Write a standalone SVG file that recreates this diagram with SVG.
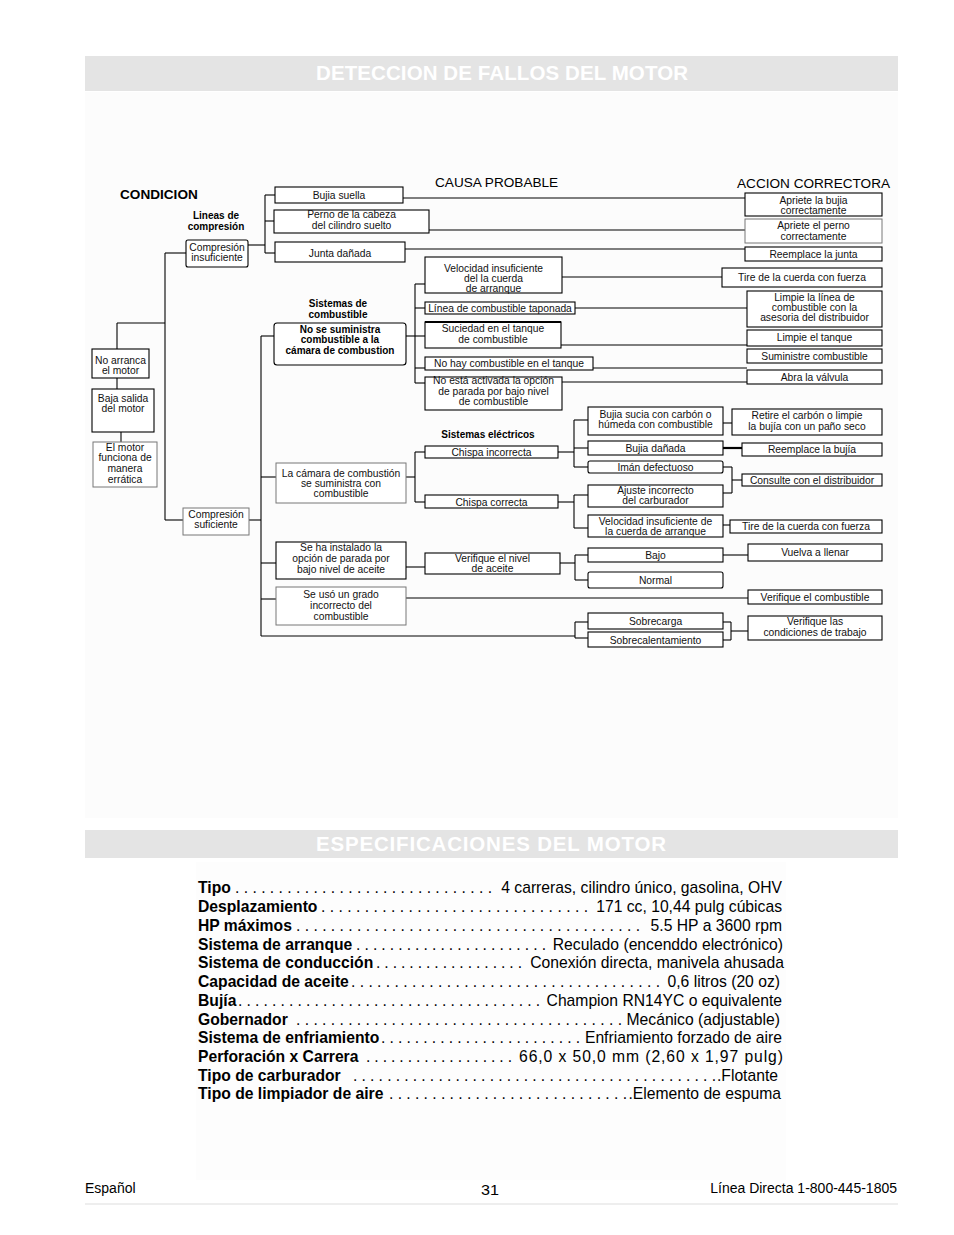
<svg xmlns="http://www.w3.org/2000/svg" width="954" height="1235" viewBox="0 0 954 1235">
<style>
.bg{fill:#fcfcfc}
.hdr{fill:#e4e4e4}
.ht{font-family:"Liberation Sans",Arial,sans-serif;font-weight:bold;font-size:20.5px;fill:#fff}
.box{fill:#fff;stroke:#000;stroke-width:1.1}
.gbox{fill:#fff;stroke:#777;stroke-width:1}
.t{font-family:"Liberation Sans",Arial,sans-serif;font-size:10.3px;text-anchor:middle;fill:#111}
.tb{font-family:"Liberation Sans",Arial,sans-serif;font-size:10px;font-weight:bold;text-anchor:middle;fill:#000}
.ttl{font-family:"Liberation Sans",Arial,sans-serif;font-size:13.6px;fill:#000}
.c line,.c polyline{stroke:#000;stroke-width:1.1;fill:none}
.sn{font-family:"Liberation Sans",Arial,sans-serif;font-size:15.7px;font-weight:bold;fill:#000}
.sv{font-family:"Liberation Sans",Arial,sans-serif;font-size:15.7px;fill:#000;text-anchor:end}
.sd{font-family:"Liberation Sans",Arial,sans-serif;font-size:15.7px;fill:#000}
.ft{font-family:"Liberation Sans",Arial,sans-serif;font-size:14px;fill:#000}
</style>
<rect width="954" height="1235" fill="#fff"/>
<rect class="bg" x="85" y="92" width="813" height="726"/>
<rect x="196" y="862" width="590" height="318" fill="#fdfdfd"/>

<g id="header1">
<rect class="hdr" x="85" y="56" width="813" height="35"/>
<text class="ht" x="316" y="80" textLength="372">DETECCION DE FALLOS DEL MOTOR</text>
</g>

<g id="titles">
<text class="ttl" x="120" y="199" font-weight="bold" font-size="15px">CONDICION</text>
<text class="ttl" x="435" y="187">CAUSA PROBABLE</text>
<text class="ttl" x="737" y="188">ACCION CORRECTORA</text>
<text class="tb" x="216" y="219">Lineas de</text>
<text class="tb" x="216" y="230">compresión</text>
<text class="tb" x="338" y="307">Sistemas de</text>
<text class="tb" x="338" y="318">combustible</text>
<text class="tb" x="488" y="438">Sistemas eléctricos</text>
</g>

<g class="c" id="connectors">
<line x1="165" y1="253" x2="165" y2="520"/>
<line x1="165" y1="253" x2="186" y2="253"/>
<line x1="165" y1="520" x2="183" y2="520"/>
<line x1="117" y1="323" x2="165" y2="323"/>
<line x1="117" y1="323" x2="117" y2="349"/>
<line x1="117" y1="378" x2="117" y2="389"/>
<line x1="121" y1="432" x2="121" y2="442" stroke="#777"/>
<line x1="248" y1="245" x2="265" y2="245"/>
<line x1="265" y1="195" x2="265" y2="253"/>
<line x1="265" y1="195" x2="275" y2="195"/>
<line x1="265" y1="221" x2="274" y2="221"/>
<line x1="265" y1="253" x2="275" y2="253"/>
<line x1="403" y1="198" x2="745" y2="198"/>
<line x1="429" y1="230" x2="745" y2="230"/>
<line x1="405" y1="249" x2="745" y2="249"/>
<line x1="249" y1="520" x2="261" y2="520"/>
<line x1="261" y1="336" x2="261" y2="636"/>
<line x1="261" y1="336" x2="274" y2="336"/>
<line x1="261" y1="477" x2="276" y2="477"/>
<line x1="261" y1="563" x2="276" y2="563"/>
<line x1="261" y1="599" x2="276" y2="599"/>
<line x1="261" y1="636" x2="575" y2="636"/>
<line x1="406" y1="336" x2="415" y2="336"/>
<line x1="415" y1="284" x2="415" y2="383"/>
<line x1="415" y1="284" x2="425" y2="284"/>
<line x1="415" y1="308" x2="425" y2="308"/>
<line x1="415" y1="336" x2="425" y2="336"/>
<line x1="415" y1="368" x2="425" y2="368"/>
<line x1="415" y1="383" x2="425" y2="383"/>
<line x1="562" y1="277" x2="722" y2="277"/>
<line x1="575" y1="308" x2="747" y2="308"/>
<line x1="561" y1="345" x2="747" y2="345"/>
<line x1="593" y1="368" x2="747" y2="368"/>
<line x1="562" y1="382" x2="747" y2="382"/>
<line x1="406" y1="477" x2="415" y2="477"/>
<line x1="415" y1="452" x2="415" y2="502"/>
<line x1="415" y1="452" x2="425" y2="452"/>
<line x1="415" y1="502" x2="425" y2="502"/>
<line x1="558" y1="452" x2="574" y2="452"/>
<line x1="574" y1="420" x2="574" y2="467"/>
<line x1="574" y1="420" x2="588" y2="420"/>
<line x1="574" y1="448" x2="588" y2="448"/>
<line x1="574" y1="467" x2="588" y2="467"/>
<line x1="558" y1="502" x2="574" y2="502"/>
<line x1="574" y1="495" x2="574" y2="528"/>
<line x1="574" y1="495" x2="588" y2="495"/>
<line x1="574" y1="528" x2="588" y2="528"/>
<line x1="723" y1="423" x2="732" y2="423"/>
<line x1="723" y1="448" x2="742" y2="448" style="stroke-width:2.2"/>
<line x1="723" y1="467" x2="732" y2="467"/>
<line x1="732" y1="467" x2="732" y2="493"/>
<line x1="723" y1="493" x2="732" y2="493"/>
<line x1="732" y1="480" x2="742" y2="480"/>
<line x1="723" y1="525" x2="730" y2="525"/>
<line x1="406" y1="567" x2="425" y2="567"/>
<line x1="560" y1="563" x2="575" y2="563"/>
<line x1="575" y1="555" x2="575" y2="580"/>
<line x1="575" y1="555" x2="588" y2="555"/>
<line x1="575" y1="580" x2="588" y2="580"/>
<line x1="723" y1="555" x2="748" y2="555"/>
<line x1="406" y1="598" x2="748" y2="598"/>
<line x1="575" y1="622" x2="575" y2="638"/>
<line x1="575" y1="622" x2="588" y2="622"/>
<line x1="575" y1="638" x2="588" y2="638"/>
<line x1="723" y1="622" x2="731" y2="622"/>
<line x1="731" y1="622" x2="731" y2="640"/>
<line x1="723" y1="640" x2="731" y2="640"/>
<line x1="731" y1="631" x2="748" y2="631"/>
</g>

<g id="n-no-arranca"><rect class="box" x="92" y="349" width="57" height="29"/><text class="t" x="120.5" y="364">No arranca</text><text class="t" x="120.5" y="374">el motor</text></g>
<g id="n-baja-salida"><rect class="box" x="92" y="389" width="62" height="43"/><text class="t" x="123" y="402">Baja salida</text><text class="t" x="123" y="412">del motor</text></g>
<g id="n-erratica"><rect class="gbox" x="93" y="442" width="64" height="45"/><text class="t" x="125" y="451">El motor</text><text class="t" x="125" y="461">funciona de</text><text class="t" x="125" y="472">manera</text><text class="t" x="125" y="483">errática</text></g>
<g id="n-comp-insuf"><rect class="box" x="186" y="240" width="62" height="27" rx="2"/><text class="t" x="217" y="251">Compresión</text><text class="t" x="217" y="261">insuficiente</text></g>
<g id="n-comp-suf"><rect class="gbox" x="183" y="508" width="66" height="27"/><text class="t" x="216" y="518">Compresión</text><text class="t" x="216" y="528">suficiente</text></g>

<g id="n-bujia-suelta"><rect class="box" x="275" y="187" width="128" height="16"/><text class="t" x="339" y="199">Bujia suella</text></g>
<g id="n-perno"><rect class="box" x="274" y="210" width="155" height="23"/><text class="t" x="351.5" y="218">Perno de la cabeza</text><text class="t" x="351.5" y="229">del cilindro suelto</text></g>
<g id="n-junta"><rect class="box" x="275" y="242" width="130" height="20"/><text class="t" x="340" y="257">Junta dañada</text></g>
<g id="n-no-suministra"><rect class="box" x="274" y="323" width="132" height="42" rx="3"/><text class="tb" x="340" y="333">No se suministra</text><text class="tb" x="340" y="343">combustible a la</text><text class="tb" x="340" y="354">cámara de combustion</text></g>
<g id="n-camara"><rect class="gbox" x="276" y="463" width="130" height="40"/><text class="t" x="341" y="477">La cámara de combustión</text><text class="t" x="341" y="487">se suministra con</text><text class="t" x="341" y="497">combustible</text></g>
<g id="n-parada-aceite"><rect class="box" x="276" y="542" width="130" height="37"/><text class="t" x="341" y="551">Se ha instalado la</text><text class="t" x="341" y="562">opción de parada por</text><text class="t" x="341" y="573">bajo nivel de aceite</text></g>
<g id="n-grado"><rect class="gbox" x="276" y="587" width="130" height="38"/><text class="t" x="341" y="598">Se usó un grado</text><text class="t" x="341" y="609">incorrecto del</text><text class="t" x="341" y="620">combustible</text></g>

<g id="n-velocidad1"><rect class="box" x="425" y="257" width="137" height="36"/><text class="t" x="493.5" y="272">Velocidad insuficiente</text><text class="t" x="493.5" y="282">del la cuerda</text><text class="t" x="493.5" y="292">de arranque</text></g>
<g id="n-linea"><rect class="box" x="425" y="302" width="150" height="12"/><text class="t" x="500" y="312">Línea de combustible taponada</text></g>
<g id="n-suciedad"><rect class="box" x="425" y="322" width="136" height="26"/><line x1="425" y1="322" x2="561" y2="322" stroke="#000" stroke-width="2"/><text class="t" x="493" y="332">Suciedad en el tanque</text><text class="t" x="493" y="343">de combustible</text></g>
<g id="n-no-hay"><rect class="box" x="425" y="357" width="168" height="13"/><text class="t" x="509" y="367">No hay combustible en el tanque</text></g>
<g id="n-no-activada"><rect class="box" x="425" y="377" width="137" height="33"/><text class="t" x="493.5" y="384">No está activada la opción</text><text class="t" x="493.5" y="395">de parada por bajo nivel</text><text class="t" x="493.5" y="405">de combustible</text></g>
<g id="n-chispa-inc"><rect class="box" x="425" y="446" width="133" height="12"/><text class="t" x="491.5" y="456">Chispa incorrecta</text></g>
<g id="n-chispa-cor"><rect class="box" x="425" y="495" width="133" height="13"/><text class="t" x="491.5" y="505.5">Chispa correcta</text></g>
<g id="n-verif-aceite"><rect class="box" x="425" y="553" width="135" height="21"/><text class="t" x="492.5" y="562">Verifique el nivel</text><text class="t" x="492.5" y="572">de aceite</text></g>

<g id="n-bujia-sucia"><rect class="box" x="588" y="407" width="135" height="28"/><text class="t" x="655.5" y="418">Bujia sucia con carbón o</text><text class="t" x="655.5" y="428">húmeda con combustible</text></g>
<g id="n-bujia-danada"><rect class="box" x="588" y="441" width="135" height="14"/><text class="t" x="655.5" y="452">Bujia dañada</text></g>
<g id="n-iman"><rect class="box" x="588" y="461" width="135" height="12" rx="2"/><text class="t" x="655.5" y="470.5">Imán defectuoso</text></g>
<g id="n-ajuste"><rect class="box" x="588" y="485" width="135" height="22"/><text class="t" x="655.5" y="494">Ajuste incorrecto</text><text class="t" x="655.5" y="504">del carburador</text></g>
<g id="n-velocidad2"><rect class="box" x="588" y="515" width="135" height="22"/><text class="t" x="655.5" y="525">Velocidad insuficiente de</text><text class="t" x="655.5" y="535">la cuerda de arranque</text></g>
<g id="n-bajo"><rect class="box" x="588" y="548" width="135" height="14"/><text class="t" x="655.5" y="559">Bajo</text></g>
<g id="n-normal"><rect class="box" x="588" y="572" width="135" height="16" rx="2"/><text class="t" x="655.5" y="584">Normal</text></g>
<g id="n-sobrecarga"><rect class="box" x="588" y="613" width="135" height="16"/><text class="t" x="655.5" y="625">Sobrecarga</text></g>
<g id="n-sobrecal"><rect class="box" x="588" y="632" width="135" height="15"/><text class="t" x="655.5" y="644">Sobrecalentamiento</text></g>

<g id="a-apriete-bujia"><rect class="box" x="745" y="193" width="137" height="23"/><text class="t" x="813.5" y="203.5">Apriete la bujia</text><text class="t" x="813.5" y="214">correctamente</text></g>
<g id="a-apriete-perno"><rect class="gbox" x="745" y="219" width="137" height="24"/><text class="t" x="813.5" y="229">Apriete el perno</text><text class="t" x="813.5" y="239.5">correctamente</text></g>
<g id="a-junta"><rect class="box" x="745" y="247" width="137" height="14"/><text class="t" x="813.5" y="257.5">Reemplace la junta</text></g>
<g id="a-tire1"><rect class="box" x="722" y="268" width="160" height="19"/><text class="t" x="802" y="281">Tire de la cuerda con fuerza</text></g>
<g id="a-limpie-linea"><rect class="box" x="747" y="291" width="135" height="36"/><text class="t" x="814.5" y="301">Limpie la línea de</text><text class="t" x="814.5" y="311">combustible con la</text><text class="t" x="814.5" y="321">asesoria del distribuidor</text></g>
<g id="a-limpie-tanque"><rect class="box" x="747" y="330" width="135" height="16"/><text class="t" x="814.5" y="341">Limpie el tanque</text></g>
<g id="a-suministre"><rect class="box" x="747" y="349" width="135" height="14"/><text class="t" x="814.5" y="360">Suministre combustible</text></g>
<g id="a-abra"><rect class="box" x="747" y="370" width="135" height="14"/><text class="t" x="814.5" y="380.5">Abra la válvula</text></g>
<g id="a-retire"><rect class="box" x="732" y="409" width="150" height="26"/><text class="t" x="807" y="419">Retire el carbón o limpie</text><text class="t" x="807" y="430">la bujía con un paño seco</text></g>
<g id="a-reemplace-bujia"><rect class="box" x="742" y="443" width="140" height="13"/><text class="t" x="812" y="453">Reemplace la bujía</text></g>
<g id="a-consulte"><rect class="box" x="742" y="474" width="140" height="12"/><text class="t" x="812" y="484">Consulte con el distribuidor</text></g>
<g id="a-tire2"><rect class="box" x="730" y="520" width="152" height="13"/><text class="t" x="806" y="530">Tire de la cuerda con fuerza</text></g>
<g id="a-vuelva"><rect class="box" x="748" y="544" width="134" height="17"/><text class="t" x="815" y="556">Vuelva a llenar</text></g>
<g id="a-verif-comb"><rect class="box" x="748" y="590" width="134" height="14"/><text class="t" x="815" y="601">Verifique el combustible</text></g>
<g id="a-verif-cond"><rect class="box" x="748" y="616" width="134" height="24"/><text class="t" x="815" y="624.5">Verifique las</text><text class="t" x="815" y="635.5">condiciones de trabajo</text></g>

<g id="header2">
<rect class="hdr" x="85" y="830" width="813" height="28"/>
<text class="ht" x="316" y="851" textLength="350">ESPECIFICACIONES DEL MOTOR</text>
</g>

<g id="specs">
<text class="sn" x="198" y="893">Tipo</text><text class="sd" x="235" y="893" textLength="257">. . . . . . . . . . . . . . . . . . . . . . . . . . . . . .</text><text class="sv" x="782" y="893">4 carreras, cilindro único, gasolina, OHV</text>
<text class="sn" x="198" y="912">Desplazamiento</text><text class="sd" x="321" y="912" textLength="267">. . . . . . . . . . . . . . . . . . . . . . . . . . . . . . .</text><text class="sv" x="782" y="912">171 cc, 10,44 pulg cúbicas</text>
<text class="sn" x="198" y="931">HP máximos</text><text class="sd" x="296" y="931" textLength="344">. . . . . . . . . . . . . . . . . . . . . . . . . . . . . . . . . . . . . . . .</text><text class="sv" x="782" y="931">5.5 HP a 3600 rpm</text>
<text class="sn" x="198" y="950">Sistema de arranque</text><text class="sd" x="356" y="950" textLength="190">. . . . . . . . . . . . . . . . . . . . . . .</text><text class="sv" x="783" y="950">Reculado (encenddo electrónico)</text>
<text class="sn" x="198" y="968">Sistema de conducción</text><text class="sd" x="376" y="968" textLength="146">. . . . . . . . . . . . . . . . . .</text><text class="sv" x="784" y="968">Conexión directa, manivela ahusada</text>
<text class="sn" x="198" y="987">Capacidad de aceite</text><text class="sd" x="351" y="987" textLength="309">. . . . . . . . . . . . . . . . . . . . . . . . . . . . . . . . . . . .</text><text class="sv" x="780" y="987">0,6 litros (20 oz)</text>
<text class="sn" x="198" y="1006">Bujía</text><text class="sd" x="238" y="1006" textLength="302">. . . . . . . . . . . . . . . . . . . . . . . . . . . . . . . . . . . .</text><text class="sv" x="782" y="1006">Champion RN14YC o equivalente</text>
<text class="sn" x="198" y="1025">Gobernador</text><text class="sd" x="296" y="1025" textLength="326">. . . . . . . . . . . . . . . . . . . . . . . . . . . . . . . . . . . . . .</text><text class="sv" x="780" y="1025">Mecánico (adjustable)</text>
<text class="sn" x="198" y="1043">Sistema de enfriamiento</text><text class="sd" x="381" y="1043" textLength="199">. . . . . . . . . . . . . . . . . . . . . . . .</text><text class="sv" x="782" y="1043">Enfriamiento forzado de aire</text>
<text class="sn" x="198" y="1062">Perforación x Carrera</text><text class="sd" x="366" y="1062" textLength="146">. . . . . . . . . . . . . . . . . .</text><text class="sv" x="783" y="1062" textLength="264">66,0 x 50,0 mm (2,60 x 1,97 pulg)</text>
<text class="sn" x="198" y="1081">Tipo de carburador</text><text class="sd" x="353" y="1081" textLength="363">. . . . . . . . . . . . . . . . . . . . . . . . . . . . . . . . . . . . . . . . . . .</text><text class="sv" x="778" y="1081">.Flotante</text>
<text class="sn" x="198" y="1099">Tipo de limpiador de aire</text><text class="sd" x="389" y="1099" textLength="238">. . . . . . . . . . . . . . . . . . . . . . . . . . . .</text><text class="sv" x="781" y="1099">.Elemento de espuma</text>
</g>

<g id="footer">
<text class="ft" x="85" y="1193">Español</text>
<text class="ft" x="481" y="1195" font-size="21px" textLength="18" lengthAdjust="spacingAndGlyphs">31</text>
<text class="ft" x="897" y="1193" text-anchor="end">Línea Directa 1-800-445-1805</text>
<line x1="85" y1="1204" x2="898" y2="1204" stroke="#dddddd" stroke-width="1"/>
</g>
</svg>
